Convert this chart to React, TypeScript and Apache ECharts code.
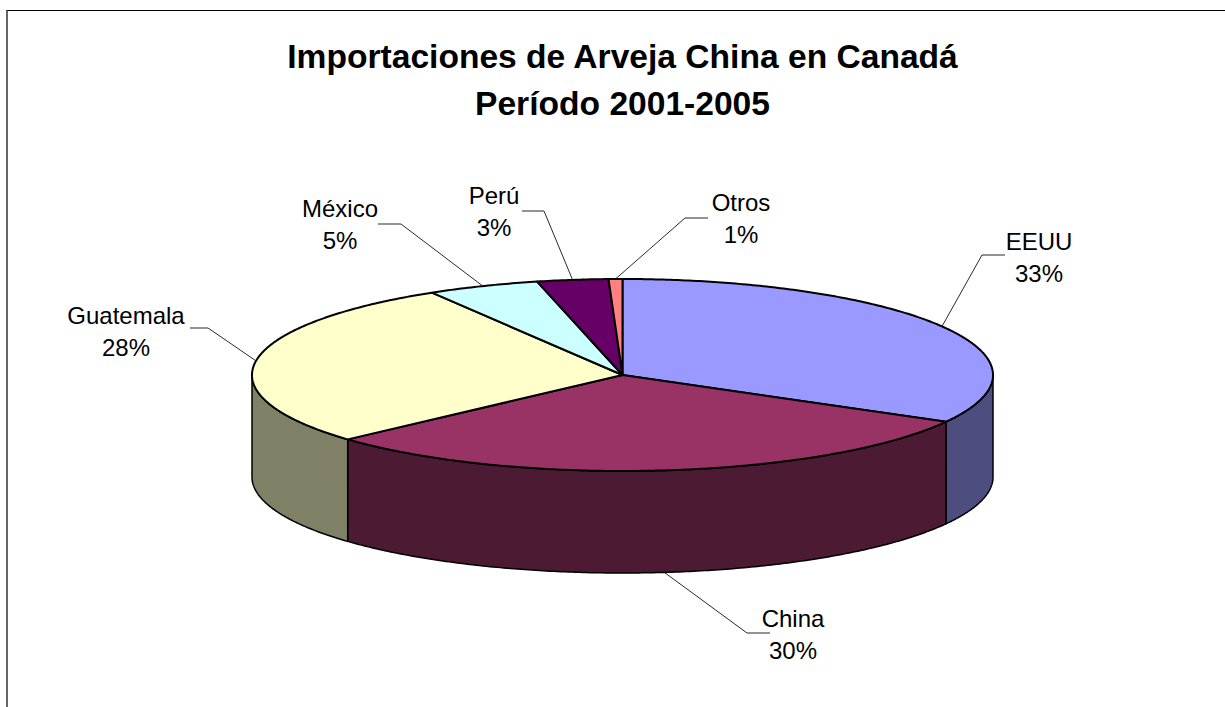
import React, { useEffect, useRef } from "react";
import * as echarts from "echarts";

const titleLines = ["Importaciones de Arveja China en Canadá", "Período 2001-2005"];
const categories = ["EEUU", "China", "Guatemala", "México", "Perú", "Otros"];
const shares = [33.1, 30.2, 28.1, 4.9, 3.1, 0.6];
const topColors = ["#9999FF", "#993366", "#FFFFCC", "#CCFFFF", "#660066", "#FF8080"];
const sideColors = ["#4D4D80", "#4D1A33", "#808066", "#668080", "#330033", "#804040"];

// layout of the drawn pie
const CX = 622.5, CY = 375, RX = 370.5, RY = 96, DEPTH = 102;
const LABEL_CENTRE = [[1039, 257], [793, 634], [126, 331], [340, 224], [494, 211], [741, 218]];
const LEADER_ELBOW = [[982, 255], [747, 633], [208, 328], [401, 224], [544, 211], [685, 218]];
const LEADER_END = [[1005, 255], [770, 633], [190, 328], [378, 224], [522, 211], [708, 218]];

const total = shares.reduce((a, b) => a + b, 0);
const px = (t: number) => CX + RX * Math.sin(t);
const py = (t: number) => CY - RY * Math.cos(t);

function arc(a: number, b: number, dy = 0) {
  const n = Math.max(2, Math.ceil((b - a) / 0.01));
  const pts: number[][] = [];
  for (let i = 0; i <= n; i++) {
    const t = a + ((b - a) * i) / n;
    pts.push([px(t), py(t) + dy]);
  }
  return pts;
}

function renderSlice(params: any, api: any) {
  const i = params.dataIndex;
  const before = shares.slice(0, i).reduce((a, b) => a + b, 0);
  const a = (before / total) * Math.PI * 2;
  const b = ((before + api.value(0)) / total) * Math.PI * 2;
  const mid = (a + b) / 2;
  const children: any[] = [];

  const s0 = Math.max(a, Math.PI / 2);
  const s1 = Math.min(b, (Math.PI * 3) / 2);
  if (s1 > s0) {
    children.push({
      type: "polygon",
      shape: { points: [...arc(s0, s1), ...arc(s0, s1, DEPTH).reverse()] },
      style: { fill: sideColors[i], stroke: "#000", lineWidth: 1.5, lineJoin: "round" },
    });
  }
  children.push({
    type: "polygon",
    shape: { points: [[CX, CY], ...arc(a, b)] },
    style: { fill: topColors[i], stroke: "#000", lineWidth: 2, lineJoin: "round" },
  });
  const front = Math.cos(mid) < -0.3;
  children.push({
    type: "polyline",
    shape: {
      points: [[px(mid), py(mid) + (front ? DEPTH : 0)], LEADER_ELBOW[i], LEADER_END[i]],
    },
    style: { fill: "none", stroke: "#111", lineWidth: 0.9 },
  });
  children.push({
    type: "text",
    x: LABEL_CENTRE[i][0],
    y: LABEL_CENTRE[i][1],
    style: {
      text: `${categories[i]}\n${Math.round((api.value(0) / total) * 100)}%`,
      fontFamily: "Liberation Sans",
      fontSize: 24,
      lineHeight: 32,
      fill: "#000",
      align: "center",
      verticalAlign: "middle",
    },
  });
  return { type: "group", children };
}

export default function App() {
  const ref = useRef<HTMLDivElement>(null);
  useEffect(() => {
    const chart = echarts.init(ref.current!, undefined, { renderer: "svg" });
    chart.setOption({
      animation: false,
      backgroundColor: "#fff",
      title: {
        text: titleLines.join("\n"),
        left: 617.5,
        top: 28,
        textAlign: "center",
        textStyle: {
          fontFamily: "Liberation Sans",
          fontWeight: "bold",
          fontSize: 33.6,
          lineHeight: 47,
          color: "#000",
        },
      },
      graphic: [
        { type: "line", shape: { x1: 6.5, y1: 10.5, x2: 1225, y2: 10.5 }, style: { stroke: "#000", lineWidth: 1 } },
        { type: "line", shape: { x1: 7, y1: 10, x2: 7, y2: 707 }, style: { stroke: "#333", lineWidth: 1.5 } },
      ],
      series: [
        {
          type: "custom",
          coordinateSystem: "none",
          silent: true,
          clip: false,
          data: shares.map((v) => [v]),
          renderItem: renderSlice,
        },
      ],
    });
    return () => chart.dispose();
  }, []);
  return <div ref={ref} style={{ position: "absolute", left: 0, top: 0, width: 1225, height: 707 }} />;
}
